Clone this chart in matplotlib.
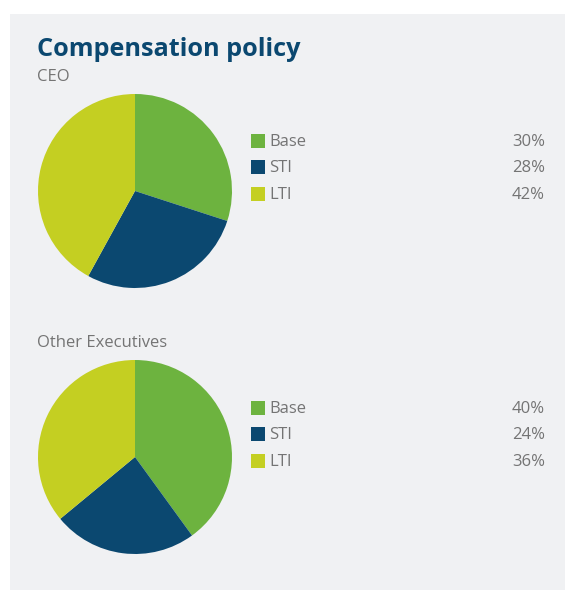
import matplotlib
matplotlib.use("Agg")
import matplotlib.pyplot as plt
from matplotlib.patches import Rectangle

title = "Compensation policy"
groups = ["CEO", "Other Executives"]
categories = ["Base", "STI", "LTI"]
ceo_values = [30, 28, 42]
other_values = [40, 24, 36]
colors = ["#6db33f", "#0b4870", "#c4cf22"]

W, H = 566, 590
fig = plt.figure(figsize=(W / 100, H / 100), dpi=100)
fig.patch.set_facecolor("white")

bg = fig.add_axes([0, 0, 1, 1])
bg.set_xlim(0, W)
bg.set_ylim(H, 0)
bg.axis("off")
bg.add_patch(Rectangle((10, 14), 555, 576, facecolor="#f0f1f3", edgecolor="none"))

font = "Open Sans"
gray = "#747474"
bg.text(37, 56, title, fontsize=18.2, fontweight="bold", color="#0b4870",
        family=font, va="baseline")

series = [ceo_values, other_values]
label_y = [81, 347]
pie_cy = [191, 457]
leg_y = [141, 408]
r = 97
cx = 135

for g, vals, ly, cy, lgy in zip(groups, series, label_y, pie_cy, leg_y):
    bg.text(37, ly, g, fontsize=12, color=gray, family=font, va="baseline")
    ax = fig.add_axes([(cx - r) / W, 1 - (cy + r) / H, 2 * r / W, 2 * r / H])
    ax.pie(vals, colors=colors, startangle=90, counterclock=False,
           wedgeprops=dict(linewidth=0))
    ax.set_xlim(-1, 1)
    ax.set_ylim(-1, 1)
    ax.set_aspect("equal")
    ax.axis("off")
    for i, (cat, v, c) in enumerate(zip(categories, vals, colors)):
        y = lgy + i * 26.3
        bg.add_patch(Rectangle((251, y - 7), 14, 14, facecolor=c, edgecolor="none"))
        bg.text(269, y + 1, cat, fontsize=12, color=gray, family=font, va="center")
        bg.text(545, y + 1, f"{v}%", fontsize=12, color=gray, family=font,
                va="center", ha="right")

fig.savefig("out.png", dpi=100)
